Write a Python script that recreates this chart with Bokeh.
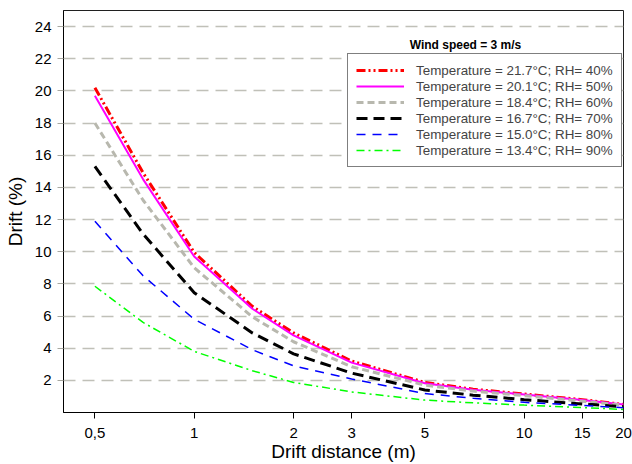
from bokeh.plotting import figure
from bokeh.models import Range1d, FixedTicker, Legend, LegendItem, Label
from bokeh.embed import file_html
from bokeh.resources import INLINE

# ---- data ----
distance = [0.5, 0.7, 1, 1.5, 2, 3, 5, 7, 10, 15, 20]
drift_40 = [20.2, 14.9, 9.95, 6.6, 4.95, 3.2, 1.87, 1.45, 1.15, 0.8, 0.5]
drift_50 = [19.7, 14.5, 9.7, 6.45, 4.8, 3.1, 1.82, 1.42, 1.12, 0.77, 0.5]
drift_60 = [18.0, 13.2, 9.0, 5.95, 4.4, 2.85, 1.7, 1.33, 1.05, 0.7, 0.45]
drift_70 = [15.3, 11.1, 7.45, 4.95, 3.65, 2.45, 1.4, 1.08, 0.8, 0.53, 0.36]
drift_80 = [11.9, 8.5, 5.8, 3.9, 2.9, 2.08, 1.18, 0.88, 0.63, 0.44, 0.3]
drift_90 = [7.85, 5.6, 3.8, 2.6, 1.87, 1.28, 0.77, 0.6, 0.46, 0.31, 0.19]
series_labels = [
    "Temperature = 21.7°C; RH= 40%",
    "Temperature = 20.1°C; RH= 50%",
    "Temperature = 18.4°C; RH= 60%",
    "Temperature = 16.7°C; RH= 70%",
    "Temperature = 15.0°C; RH= 80%",
    "Temperature = 13.4°C; RH= 90%",
]
x_ticks = [0.5, 1, 2, 3, 5, 10, 15, 20]
y_ticks = [2, 4, 6, 8, 10, 12, 14, 16, 18, 20, 22, 24]
legend_title = "Wind speed = 3 m/s"

FONT = "Liberation Sans"

p = figure(width=632, height=464, x_axis_type="log",
           x_range=Range1d(0.4016, 20), y_range=Range1d(0, 25),
           output_backend="svg", toolbar_location=None,
           min_border_left=63, min_border_right=9, min_border_top=10, min_border_bottom=51)
p.outline_line_color = "#202020"
p.outline_line_width = 1

styles = [
    dict(color="#ff0000", line_width=3, line_dash="9 3 2 3 2 3"),
    dict(color="#ff00ff", line_width=2, line_dash="solid"),
    dict(color="#b8b8ae", line_width=3, line_dash="7 4"),
    dict(color="#000000", line_width=3, line_dash="11 6"),
    dict(color="#0000ff", line_width=1.5, line_dash="9 7"),
    dict(color="#00ff00", line_width=1.5, line_dash="8 4 2 4"),
]
all_series = [drift_40, drift_50, drift_60, drift_70, drift_80, drift_90]

renderers = []
for ys, st in zip(all_series, styles):
    r = p.line(distance, ys, line_color=st["color"], line_width=st["line_width"],
               line_dash=st["line_dash"])
    renderers.append(r)

# axes
p.xaxis.ticker = FixedTicker(ticks=x_ticks)
p.xaxis.major_label_overrides = {0.5: "0,5"}
p.yaxis.ticker = FixedTicker(ticks=y_ticks)
for ax in (p.xaxis, p.yaxis):
    ax.axis_line_color = "black"
    ax.axis_line_width = 1
    ax.major_tick_in = 0
    ax.major_tick_out = 6
    ax.minor_tick_line_color = None
    ax.major_label_text_font = FONT
    ax.major_label_text_font_size = "15px"
    ax.major_label_text_color = "black"
    ax.axis_label_text_font = FONT
    ax.axis_label_text_font_size = "19px"
    ax.axis_label_text_font_style = "normal"
    ax.axis_label_text_color = "black"
p.xaxis.major_tick_line_color = "black"
p.yaxis.major_tick_line_color = "#a8a8a0"
p.xaxis.axis_label = "Drift distance (m)"
p.yaxis.axis_label = "Drift (%)"
p.xaxis.major_label_standoff = 9
p.xaxis.axis_label_standoff = 0
p.yaxis.major_label_standoff = 6
p.yaxis.axis_label_standoff = 6

# grid
p.xgrid.grid_line_color = None
p.ygrid.grid_line_color = "#c0c0b8"
p.ygrid.grid_line_width = 1.5
p.ygrid.grid_line_dash = "12 7"

# legend
items = [LegendItem(label=lab, renderers=[r]) for lab, r in zip(series_labels, renderers)]
legend = Legend(items=items, location=(284, 245))
legend.label_text_font = FONT
legend.label_text_font_size = "13.4px"
legend.glyph_width = 48
legend.glyph_height = 16
legend.label_height = 16
legend.label_standoff = 12
legend.spacing = 0
legend.padding = 8
legend.margin = 0
legend.border_line_color = "black"
legend.border_line_width = 1
legend.background_fill_alpha = 1
p.add_layout(legend, "center")

title_lbl = Label(x=402, y=368, x_units="screen", y_units="screen", text=legend_title,
                  text_font=FONT, text_font_size="12px", text_font_style="bold",
                  text_align="center", text_baseline="middle", text_color="black")
p.add_layout(title_lbl)

open("out.html", "w").write(file_html(p, INLINE))
